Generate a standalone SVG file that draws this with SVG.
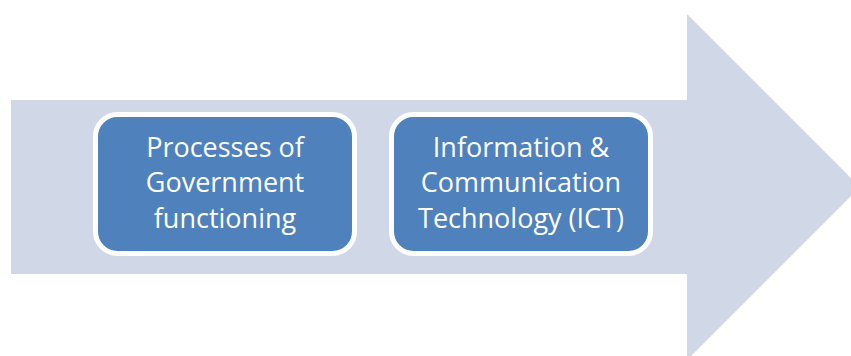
<svg xmlns="http://www.w3.org/2000/svg" width="851" height="356" viewBox="0 0 851 356">
<style>
.box{fill:#4F81BD;stroke:#FFFFFF;stroke-width:5}
.lbl{font-family:"Open Sans","Liberation Sans",sans-serif;font-size:27px;fill:#FFFFFF;text-anchor:middle}
</style>
<rect width="851" height="356" fill="#FFFFFF"/>
<g id="arrow">
<polygon points="11,100 687,100 687,14 860,187 687,360 687,274 11,274" fill="#D0D8E8"/>
</g>
<g id="node1">
<rect class="box" x="95.5" y="114.5" width="259" height="139" rx="22" ry="22"/>
<text class="lbl" x="225" y="157">Processes of</text>
<text class="lbl" x="225" y="192">Government</text>
<text class="lbl" x="225" y="228">functioning</text>
</g>
<g id="node2">
<rect class="box" x="391.5" y="114.5" width="259" height="139" rx="22" ry="22"/>
<text class="lbl" x="521" y="157">Information &amp;</text>
<text class="lbl" x="521" y="192">Communication</text>
<text class="lbl" x="521" y="228">Technology (ICT)</text>
</g>
<g id="connectors"></g>
</svg>
